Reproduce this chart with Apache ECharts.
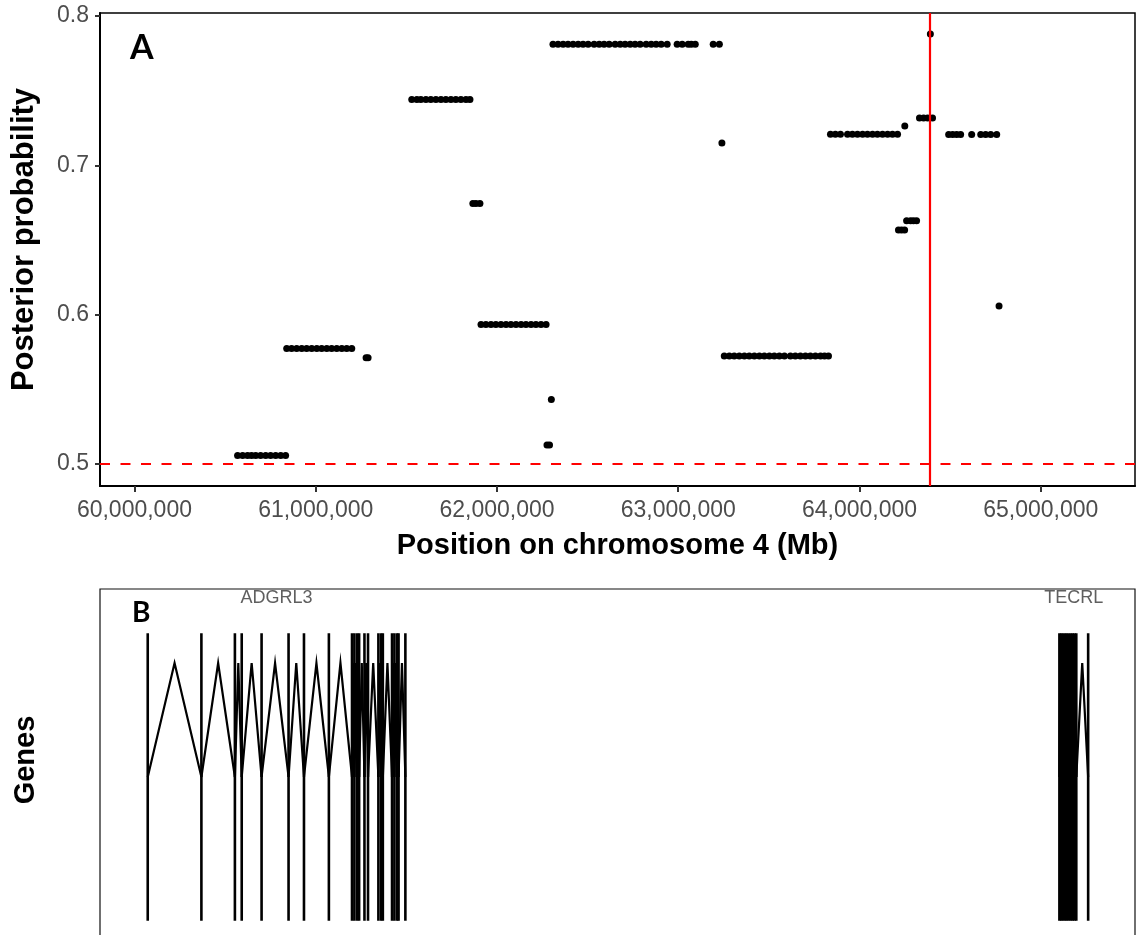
<!DOCTYPE html>
<html>
<head>
<meta charset="utf-8">
<script src="https://cdn.jsdelivr.net/npm/echarts@6/dist/echarts.min.js"></script>
<style>
  html, body { margin: 0; padding: 0; background: #ffffff; }
  #chart { width: 1137px; height: 935px; }
</style>
</head>
<body>
<div id="chart"></div>
<script>
// Posterior probability of each variant, grouped in runs that share a value.
// Positions are in Mb on chromosome 4.
const runProb = [
  0.5058, 0.5774, 0.5712, 0.7441, 0.6745, 0.5935, 0.5433, 0.5127, 0.7811, 0.7151,
  0.5723, 0.7209, 0.7264, 0.7318, 0.7880, 0.7208, 0.6058, 0.6629, 0.6568
];
const runPositions = [
  [60.569, 60.597, 60.624, 60.646, 60.669, 60.696, 60.724, 60.751, 60.779, 60.807, 60.834],
  [60.840, 60.867, 60.895, 60.923, 60.950, 60.978, 61.006, 61.033, 61.061, 61.088, 61.116, 61.144, 61.171, 61.199],
  [61.278, 61.289],
  [61.530, 61.558, 61.580, 61.608, 61.635, 61.663, 61.691, 61.718, 61.746, 61.773, 61.801, 61.829, 61.851],
  [61.867, 61.884, 61.906],
  [61.912, 61.939, 61.967, 61.994, 62.022, 62.050, 62.077, 62.105, 62.133, 62.160, 62.188, 62.215, 62.243, 62.271],
  [62.300],
  [62.276, 62.290],
  [62.309, 62.337, 62.365, 62.392, 62.420, 62.448, 62.475, 62.503, 62.536, 62.564, 62.591, 62.619,
   62.652, 62.680, 62.707, 62.735, 62.762, 62.790, 62.823, 62.851, 62.878, 62.906, 62.939,
   62.994, 63.022, 63.055, 63.072, 63.094, 63.193, 63.227],
  [63.241],
  [63.254, 63.282, 63.309, 63.337, 63.365, 63.392, 63.420, 63.448, 63.475, 63.503, 63.530,
   63.558, 63.586, 63.619, 63.646, 63.674, 63.702, 63.729, 63.757, 63.785, 63.807, 63.829],
  [63.840, 63.867, 63.895, 63.934, 63.961, 63.989, 64.017, 64.044, 64.072, 64.099, 64.127, 64.155, 64.182, 64.210],
  [64.250],
  [64.331, 64.354, 64.376, 64.403],
  [64.391],
  [64.492, 64.514, 64.536, 64.558, 64.619, 64.669, 64.696, 64.724, 64.757],
  [64.770],
  [64.260, 64.282, 64.298, 64.315],
  [64.215, 64.232, 64.249]
];

// Reference lines: significance threshold and the lead variant position (Mb)
const probThreshold = 0.5;
const leadVariantMb = 64.391;

// Axis ticks
const xTickMb = [60, 61, 62, 63, 64, 65];
const yTicks = [0.5, 0.6, 0.7, 0.8];

// Gene models: exon positions (Mb) for each gene
const geneNames = ['ADGRL3', 'TECRL'];
const geneExons = [
  [62.066, 62.247, 62.360, 62.383, 62.450, 62.541, 62.593, 62.677,
   62.755, 62.763, 62.772, 62.779, 62.797, 62.809, 62.844, 62.853, 62.859,
   62.890, 62.898, 62.907, 62.912, 62.935],
  [65.141, 65.147, 65.153, 65.160, 65.166, 65.173, 65.180, 65.186, 65.192, 65.198, 65.238]
];

// ---- build the scatter data ----
const points = [];
runPositions.forEach((run, i) => {
  run.forEach(x => points.push([x, runProb[i]]));
});

const geneData = geneNames.map((name, i) => {
  const ex = geneExons[i];
  return [Math.min(...ex), Math.max(...ex), i];
});

function withCommas(n) {
  return String(Math.round(n)).replace(/\B(?=(\d{3})+(?!\d))/g, ',');
}

// gene-track geometry in y-axis units
const EXON_HALF = 1;
const INTRON_PEAK = 0.793;
const LABEL_Y = 1.246;

function renderGene(params, api) {
  const idx = api.value(2);
  const exons = geneExons[idx];
  const children = [];
  const yTop = api.coord([exons[0], EXON_HALF])[1];
  const yBot = api.coord([exons[0], -EXON_HALF])[1];
  const yMid = api.coord([exons[0], 0])[1];
  const yPeak = api.coord([exons[0], INTRON_PEAK])[1];
  const xs = exons.map(e => api.coord([e, 0])[0]);
  for (let k = 0; k < xs.length - 1; k++) {
    children.push({
      type: 'polyline',
      shape: { points: [[xs[k], yMid], [(xs[k] + xs[k + 1]) / 2, yPeak], [xs[k + 1], yMid]] },
      style: { stroke: '#000', lineWidth: 2.2, fill: null }
    });
  }
  xs.forEach(x => {
    children.push({
      type: 'line',
      shape: { x1: x, y1: yTop, x2: x, y2: yBot },
      style: { stroke: '#000', lineWidth: 2.6 }
    });
  });
  const mid = api.coord([(exons[0] + exons[exons.length - 1]) / 2, LABEL_Y]);
  children.push({
    type: 'text',
    x: mid[0], y: mid[1],
    style: {
      text: geneNames[idx], fill: '#5f5f5f',
      font: '18px "Liberation Sans", Arial, sans-serif',
      align: 'center', verticalAlign: 'middle'
    }
  });
  return { type: 'group', children };
}

const titleFont = '"Liberation Sans", Arial, sans-serif';

const option = {
  animation: false,
  backgroundColor: '#ffffff',
  grid: [
    { left: 100, top: 13, width: 1035, height: 473, show: true, borderColor: '#000', borderWidth: 1.5,
      containLabel: false, outerBoundsMode: 'none' },
    { left: 100, top: 589, width: 1035, height: 420, show: true, borderColor: '#111', borderWidth: 1.2,
      containLabel: false, outerBoundsMode: 'none' }
  ],
  xAxis: [
    {
      gridIndex: 0, type: 'value', min: 59.81, max: 65.52,
      axisLine: { show: true, onZero: false, lineStyle: { color: '#000', width: 2 } },
      axisTick: { show: true, length: 6, customValues: xTickMb, lineStyle: { color: '#333', width: 2 } },
      axisLabel: {
        customValues: xTickMb, color: '#4d4d4d', fontSize: 23, fontFamily: titleFont, margin: 13,
        formatter: v => withCommas(v * 1e6)
      },
      splitLine: { show: false },
      name: 'Position on chromosome 4 (Mb)', nameLocation: 'middle', nameGap: 45,
      nameTextStyle: { color: '#000', fontSize: 29, fontWeight: 'bold', fontFamily: titleFont }
    },
    { gridIndex: 1, type: 'value', min: 61.905, max: 65.396, show: false }
  ],
  yAxis: [
    {
      gridIndex: 0, type: 'value', min: 0.4853, max: 0.8021,
      axisLine: { show: true, onZero: false, lineStyle: { color: '#000', width: 2 } },
      axisTick: { show: true, length: 5, customValues: yTicks, lineStyle: { color: '#333', width: 2 } },
      axisLabel: {
        customValues: yTicks, color: '#4d4d4d', fontSize: 23, fontFamily: titleFont, margin: 11,
        formatter: v => v.toFixed(1)
      },
      splitLine: { show: false },
      name: 'Posterior probability', nameLocation: 'middle', nameGap: 60, nameRotate: 90,
      nameTextStyle: { color: '#000', fontSize: 31, fontWeight: 'bold', fontFamily: titleFont,
        padding: [0, 0, 0, 20] }
    },
    { gridIndex: 1, type: 'value', min: -1.6145, max: 1.308, show: false }
  ],
  graphic: [
    { type: 'text', left: 130, top: 31, style: { text: 'A', fill: '#000', font: 'bold 34px Lato, "Open Sans", sans-serif' } },
    { type: 'text', left: 132, top: 599, style: { text: 'B', fill: '#000', font: 'bold 28px Lato, "Open Sans", sans-serif' } },
    {
      type: 'text', x: 26, y: 760, rotation: Math.PI / 2,
      style: { text: 'Genes', fill: '#000', font: 'bold 29px ' + titleFont, align: 'center', verticalAlign: 'middle' }
    }
  ],
  series: [
    {
      type: 'scatter', xAxisIndex: 0, yAxisIndex: 0,
      data: points, symbol: 'circle', symbolSize: 7,
      itemStyle: { color: '#000', opacity: 1 },
      markLine: {
        silent: true, symbol: 'none', label: { show: false },
        data: [
          { yAxis: probThreshold, lineStyle: { color: '#ff0000', width: 2, type: [10, 10.5], opacity: 1 } },
          { xAxis: leadVariantMb, lineStyle: { color: '#ff0000', width: 2.2, type: 'solid', opacity: 1 } }
        ]
      }
    },
    {
      type: 'custom', xAxisIndex: 1, yAxisIndex: 1,
      data: geneData, renderItem: renderGene,
      encode: { x: [0, 1] }, silent: true
    }
  ]
};

const chart = echarts.init(document.getElementById('chart'), null, { renderer: 'canvas' });
chart.setOption(option);
</script>
</body>
</html>
